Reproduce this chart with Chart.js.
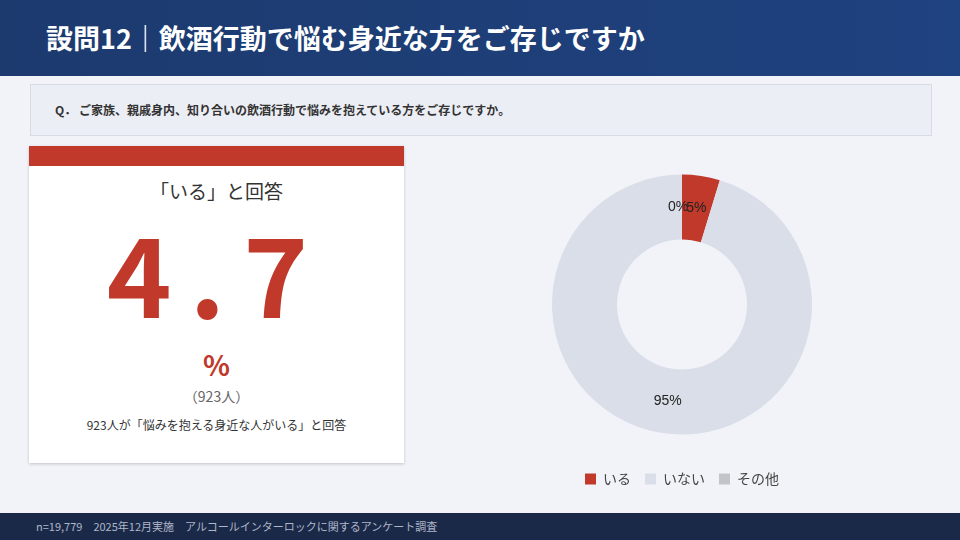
<!DOCTYPE html>
<html><head><meta charset="utf-8">
<script src="https://cdn.jsdelivr.net/npm/chart.js"></script>
<style>
body{margin:0;width:960px;height:540px;overflow:hidden;background:#f1f3f9;font-family:"Noto Sans CJK JP","Noto Sans",sans-serif;position:relative}
.hd{position:absolute;left:0;top:0;width:960px;height:76px;background:linear-gradient(90deg,#1c3a6e,#1f4280);color:#fff;font-size:27px;font-weight:bold;line-height:76px;padding-left:46px;box-sizing:border-box}
.q{position:absolute;left:30px;top:84px;width:902px;height:52px;background:#eceef5;border:1px solid #d8dbe4;box-sizing:border-box;font-size:12px;font-weight:bold;color:#333;line-height:50px;padding-left:24px}
.card{position:absolute;left:29px;top:146px;width:375px;height:317px;background:#fff;box-shadow:0 1px 3px rgba(0,0,0,.2);text-align:center;color:#333}
.bar{height:20px;background:#c0392b}
.ft{position:absolute;left:0;top:513px;width:960px;height:27px;background:#1b2949;color:#aeb6c8;font-size:11px;line-height:27px;padding-left:36px;box-sizing:border-box}
#wrap{position:absolute;left:552px;top:151px;width:260px;height:345px}
</style></head><body>
<div class="hd">設問12｜飲酒行動で悩む身近な方をご存じですか</div>
<div class="q">Q． ご家族、親戚身内、知り合いの飲酒行動で悩みを抱えている方をご存じですか。</div>
<div class="card"><div class="bar"></div>
<div style="font-size:19px;margin-top:12px;line-height:26px">「いる」と回答</div>
<div style="font-size:110px;color:#c0392b;font-weight:bold;line-height:120px;margin-top:6px;letter-spacing:18px">4.7</div>
<div style="font-size:28px;color:#c0392b;font-weight:bold;margin-top:14px;line-height:40px">%</div>
<div style="font-size:14px;color:#666;margin-top:2px">（923人）</div>
<div style="font-size:12px;margin-top:10px">923人が「悩みを抱える身近な人がいる」と回答</div>
</div>
<div id="wrap"><canvas id="c"></canvas></div>
<div class="ft">n=19,779　2025年12月実施　アルコールインターロックに関するアンケート調査</div>
<script>
const categories=["いる","いない","その他"];
const values=[4.7,95.3,0];
const shownLabels=["5%","95%","0%"];
const colors=["#c0392b","#d9dee8","#c2c4ca"];
const labelPlugin={id:"lbl",afterDatasetsDraw(chart){
  const ctx=chart.ctx;const meta=chart.getDatasetMeta(0);
  ctx.save();ctx.font="14px 'Liberation Sans',Arial";ctx.fillStyle="#222";ctx.textAlign="center";ctx.textBaseline="middle";
  meta.data.forEach((a,i)=>{const p=a.tooltipPosition();ctx.fillText(shownLabels[i],p.x-(i==2?4:0),p.y);});
  ctx.restore();}};
new Chart(document.getElementById("c"),{type:"doughnut",
data:{labels:categories,datasets:[{data:values,backgroundColor:colors,borderWidth:0}]},
options:{responsive:true,maintainAspectRatio:false,animation:false,cutout:"50%",
plugins:{tooltip:{enabled:false},legend:{position:"bottom",labels:{boxWidth:11,boxHeight:11,padding:14,color:"#444",font:{size:14,family:"'Noto Sans CJK JP'"}}}}},
plugins:[labelPlugin]});
</script>
</body></html>
